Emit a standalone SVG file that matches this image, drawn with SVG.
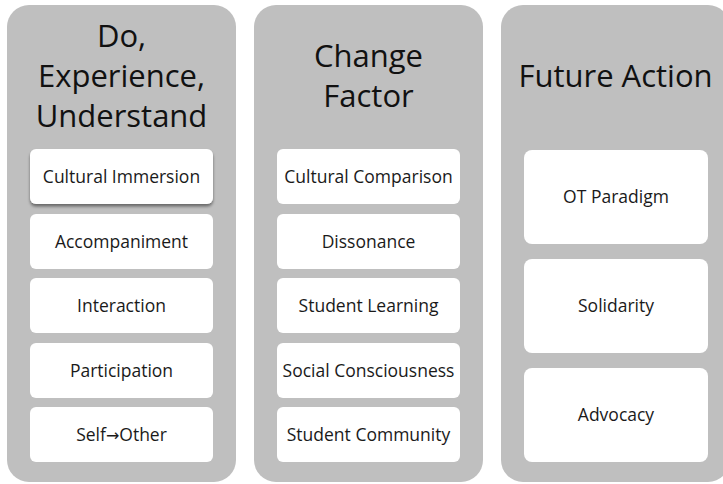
<svg xmlns="http://www.w3.org/2000/svg" width="723" height="484" viewBox="0 0 723 484">
  <defs>
    <filter id="shadow" x="-10%" y="-20%" width="120%" height="160%">
      <feDropShadow dx="0" dy="2.5" stdDeviation="1.8" flood-color="#000" flood-opacity="0.45"/>
    </filter>
  </defs>
  <style>
    .col { fill: #bfbfbf; }
    .box { fill: #ffffff; }
    .title { font-family: "Open Sans", "Noto Sans", sans-serif; font-size: 31px; fill: #111; text-anchor: middle; }
    .lbl { font-family: "Open Sans", "Noto Sans", "DejaVu Sans", sans-serif; font-size: 17.5px; fill: #1a1a1a; text-anchor: middle; }
    .arr { font-family: "DejaVu Sans", sans-serif; font-size: 16px; }
  </style>
  <rect width="723" height="484" fill="#ffffff"/>

  <g id="col-do">
    <rect class="col" x="7" y="5" width="229" height="477" rx="22"/>
    <text class="title" x="121.5" y="47">Do,</text>
    <text class="title" x="121.5" y="87">Experience,</text>
    <text class="title" x="121.5" y="127">Understand</text>
  </g>
  <g id="col-change">
    <rect class="col" x="254" y="5" width="229" height="477" rx="22"/>
    <text class="title" x="368.5" y="67">Change</text>
    <text class="title" x="368.5" y="107">Factor</text>
  </g>
  <g id="col-future">
    <rect class="col" x="501" y="5" width="229" height="477" rx="22"/>
    <text class="title" x="615.5" y="87">Future Action</text>
  </g>

  <g id="n-cultural-immersion">
    <rect class="box" x="30" y="149" width="183" height="55" rx="6" filter="url(#shadow)"/>
    <text class="lbl" x="121.5" y="183">Cultural Immersion</text>
  </g>
  <g id="n-accompaniment">
    <rect class="box" x="30" y="214" width="183" height="55" rx="6"/>
    <text class="lbl" x="121.5" y="248">Accompaniment</text>
  </g>
  <g id="n-interaction">
    <rect class="box" x="30" y="278" width="183" height="55" rx="6"/>
    <text class="lbl" x="121.5" y="312">Interaction</text>
  </g>
  <g id="n-participation">
    <rect class="box" x="30" y="343" width="183" height="55" rx="6"/>
    <text class="lbl" x="121.5" y="377">Participation</text>
  </g>
  <g id="n-self-other">
    <rect class="box" x="30" y="407" width="183" height="55" rx="6"/>
    <text class="lbl" x="121.5" y="441">Self<tspan class="arr">→</tspan>Other</text>
  </g>

  <g id="n-cultural-comparison">
    <rect class="box" x="277" y="149" width="183" height="55" rx="6"/>
    <text class="lbl" x="368.5" y="183">Cultural Comparison</text>
  </g>
  <g id="n-dissonance">
    <rect class="box" x="277" y="214" width="183" height="55" rx="6"/>
    <text class="lbl" x="368.5" y="248">Dissonance</text>
  </g>
  <g id="n-student-learning">
    <rect class="box" x="277" y="278" width="183" height="55" rx="6"/>
    <text class="lbl" x="368.5" y="312">Student Learning</text>
  </g>
  <g id="n-social-consciousness">
    <rect class="box" x="277" y="343" width="183" height="55" rx="6"/>
    <text class="lbl" x="368.5" y="377">Social Consciousness</text>
  </g>
  <g id="n-student-community">
    <rect class="box" x="277" y="407" width="183" height="55" rx="6"/>
    <text class="lbl" x="368.5" y="441">Student Community</text>
  </g>

  <g id="n-ot-paradigm">
    <rect class="box" x="524" y="150" width="184" height="94" rx="8"/>
    <text class="lbl" x="616" y="203">OT Paradigm</text>
  </g>
  <g id="n-solidarity">
    <rect class="box" x="524" y="259" width="184" height="94" rx="8"/>
    <text class="lbl" x="616" y="312">Solidarity</text>
  </g>
  <g id="n-advocacy">
    <rect class="box" x="524" y="368" width="184" height="94" rx="8"/>
    <text class="lbl" x="616" y="421">Advocacy</text>
  </g>

  <g id="connectors"/>
</svg>
